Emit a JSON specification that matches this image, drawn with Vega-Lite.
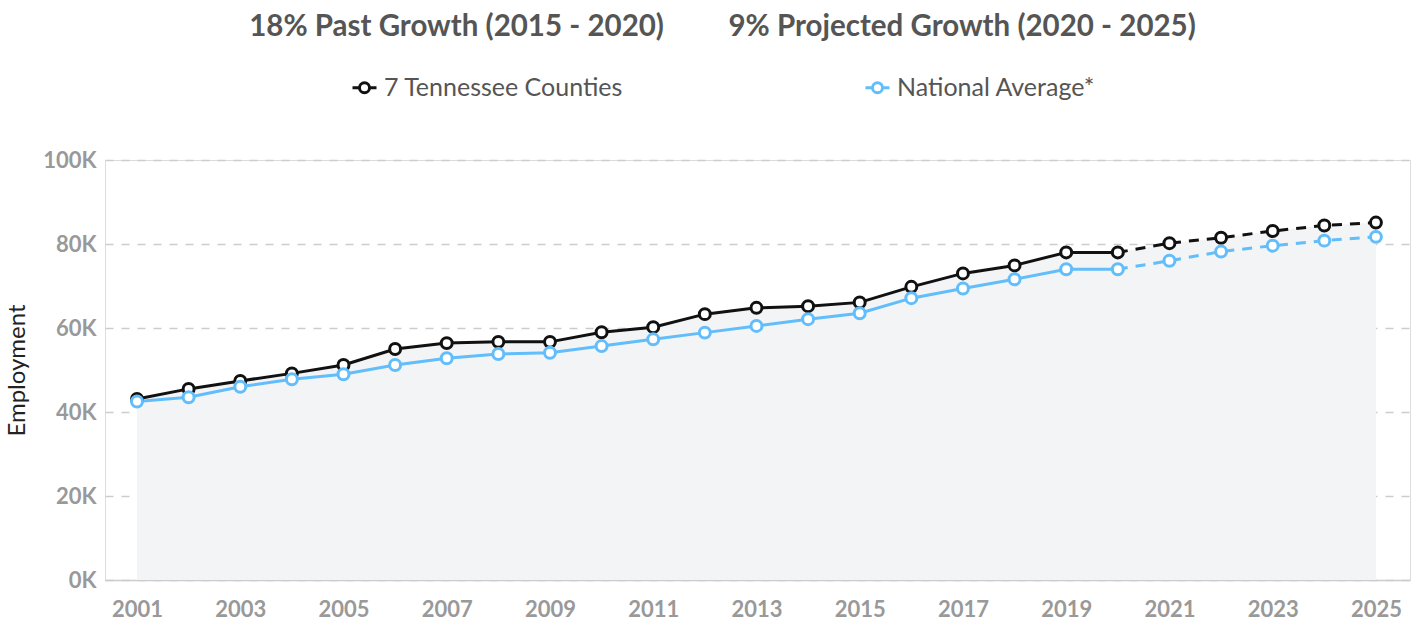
{
  "$schema": "https://vega.github.io/schema/vega-lite/v6.json",
  "width": 1305,
  "height": 420,
  "autosize": {"type": "none"},
  "padding": {"left": 105, "top": 160, "right": 6, "bottom": 44},
  "background": "white",
  "title": {
    "text": "18% Past Growth (2015 - 2020)\u00a0\u00a0\u00a0\u00a0\u00a0\u00a0\u00a0\u00a0\u00a09% Projected Growth (2020 - 2025)",
    "font": "Lato",
    "fontSize": 29.5,
    "fontWeight": "bold",
    "color": "#555555",
    "anchor": "middle",
    "frame": "group",
    "dx": -35,
    "offset": 32
  },
  "data": {
    "values": [
      {"year": 2001, "series": "7 Tennessee Counties", "value": 43100},
      {"year": 2002, "series": "7 Tennessee Counties", "value": 45500},
      {"year": 2003, "series": "7 Tennessee Counties", "value": 47400},
      {"year": 2004, "series": "7 Tennessee Counties", "value": 49200},
      {"year": 2005, "series": "7 Tennessee Counties", "value": 51200},
      {"year": 2006, "series": "7 Tennessee Counties", "value": 55000},
      {"year": 2007, "series": "7 Tennessee Counties", "value": 56400},
      {"year": 2008, "series": "7 Tennessee Counties", "value": 56700},
      {"year": 2009, "series": "7 Tennessee Counties", "value": 56700},
      {"year": 2010, "series": "7 Tennessee Counties", "value": 59000},
      {"year": 2011, "series": "7 Tennessee Counties", "value": 60200},
      {"year": 2012, "series": "7 Tennessee Counties", "value": 63300},
      {"year": 2013, "series": "7 Tennessee Counties", "value": 64800},
      {"year": 2014, "series": "7 Tennessee Counties", "value": 65200},
      {"year": 2015, "series": "7 Tennessee Counties", "value": 66100},
      {"year": 2016, "series": "7 Tennessee Counties", "value": 69800},
      {"year": 2017, "series": "7 Tennessee Counties", "value": 73000},
      {"year": 2018, "series": "7 Tennessee Counties", "value": 74900},
      {"year": 2019, "series": "7 Tennessee Counties", "value": 78000},
      {"year": 2020, "series": "7 Tennessee Counties", "value": 78000},
      {"year": 2021, "series": "7 Tennessee Counties", "value": 80200},
      {"year": 2022, "series": "7 Tennessee Counties", "value": 81500},
      {"year": 2023, "series": "7 Tennessee Counties", "value": 83100},
      {"year": 2024, "series": "7 Tennessee Counties", "value": 84400},
      {"year": 2025, "series": "7 Tennessee Counties", "value": 85100},
      {"year": 2001, "series": "National Average*", "value": 42500},
      {"year": 2002, "series": "National Average*", "value": 43500},
      {"year": 2003, "series": "National Average*", "value": 46000},
      {"year": 2004, "series": "National Average*", "value": 47800},
      {"year": 2005, "series": "National Average*", "value": 49000},
      {"year": 2006, "series": "National Average*", "value": 51200},
      {"year": 2007, "series": "National Average*", "value": 52800},
      {"year": 2008, "series": "National Average*", "value": 53800},
      {"year": 2009, "series": "National Average*", "value": 54100},
      {"year": 2010, "series": "National Average*", "value": 55700},
      {"year": 2011, "series": "National Average*", "value": 57300},
      {"year": 2012, "series": "National Average*", "value": 58900},
      {"year": 2013, "series": "National Average*", "value": 60500},
      {"year": 2014, "series": "National Average*", "value": 62100},
      {"year": 2015, "series": "National Average*", "value": 63500},
      {"year": 2016, "series": "National Average*", "value": 67100},
      {"year": 2017, "series": "National Average*", "value": 69400},
      {"year": 2018, "series": "National Average*", "value": 71600},
      {"year": 2019, "series": "National Average*", "value": 74000},
      {"year": 2020, "series": "National Average*", "value": 74000},
      {"year": 2021, "series": "National Average*", "value": 76000},
      {"year": 2022, "series": "National Average*", "value": 78200},
      {"year": 2023, "series": "National Average*", "value": 79600},
      {"year": 2024, "series": "National Average*", "value": 80800},
      {"year": 2025, "series": "National Average*", "value": 81700}
    ]
  },
  "encoding": {
    "x": {
      "field": "year",
      "type": "quantitative",
      "scale": {"domain": [2000.38, 2025.66], "nice": false, "zero": false},
      "axis": {
        "title": null,
        "values": [2001, 2003, 2005, 2007, 2009, 2011, 2013, 2015, 2017, 2019, 2021, 2023, 2025],
        "format": "d",
        "grid": false,
        "ticks": false,
        "domain": true,
        "domainColor": "#cccccc",
        "domainWidth": 1.5,
        "labelFont": "Lato",
        "labelFontSize": 22,
        "labelFontWeight": "bold",
        "labelColor": "#999999",
        "labelPadding": 19
      }
    },
    "y": {
      "field": "value",
      "type": "quantitative",
      "scale": {"domain": [0, 100000], "nice": false},
      "axis": {
        "title": "Employment",
        "titleFont": "Lato",
        "titleFontSize": 24,
        "titleFontWeight": "normal",
        "titleColor": "#222222",
        "titleX": -76,
        "titleY": 210,
        "values": [0, 20000, 40000, 60000, 80000, 100000],
        "labelExpr": "(datum.value / 1000) + 'K'",
        "grid": true,
        "gridColor": "#cccccc",
        "gridDash": [8, 8],
        "gridWidth": 1.5,
        "ticks": false,
        "domain": false,
        "labelFont": "Lato",
        "labelFontSize": 22,
        "labelFontWeight": "bold",
        "labelColor": "#999999",
        "labelPadding": 9
      }
    }
  },
  "layer": [
    {
      "transform": [{"filter": "datum.series == '7 Tennessee Counties'"}],
      "mark": {"type": "area", "color": "#f3f4f6", "opacity": 1}
    },
    {
      "transform": [{"filter": "datum.year <= 2020"}],
      "mark": {"type": "line", "strokeWidth": 3},
      "encoding": {
        "stroke": {"field": "series", "type": "nominal", "scale": {"domain": ["7 Tennessee Counties", "National Average*"], "range": ["#111111", "#62bdfb"]}}
      }
    },
    {
      "transform": [{"filter": "datum.year >= 2020"}],
      "mark": {"type": "line", "strokeWidth": 3, "strokeDash": [10, 8]},
      "encoding": {
        "stroke": {"field": "series", "type": "nominal"}
      }
    },
    {
      "mark": {"type": "point", "filled": false, "fill": "white", "fillOpacity": 1, "opacity": 1, "size": 120, "strokeWidth": 3},
      "encoding": {
        "stroke": {"field": "series", "type": "nominal"}
      }
    }
  ],
  "resolve": {"legend": {"stroke": "shared"}},
  "config": {
    "legend": {
      "title": null,
      "orient": "none",
      "direction": "horizontal",
      "legendX": 246,
      "legendY": -86,
      "symbolType": "M-1,0L-0.42,0M0.42,0L1,0M-0.42,0A0.42,0.42,0,1,0,0.42,0A0.42,0.42,0,1,0,-0.42,0Z",
      "symbolSize": 576,
      "symbolFillColor": "white",
      "symbolStrokeWidth": 3,
      "labelFont": "Lato",
      "labelFontSize": 25,
      "labelLimit": 0,
      "labelColor": "#555555",
      "labelOffset": 6,
      "columnPadding": 235,
      "padding": 0
    }
  }
}
